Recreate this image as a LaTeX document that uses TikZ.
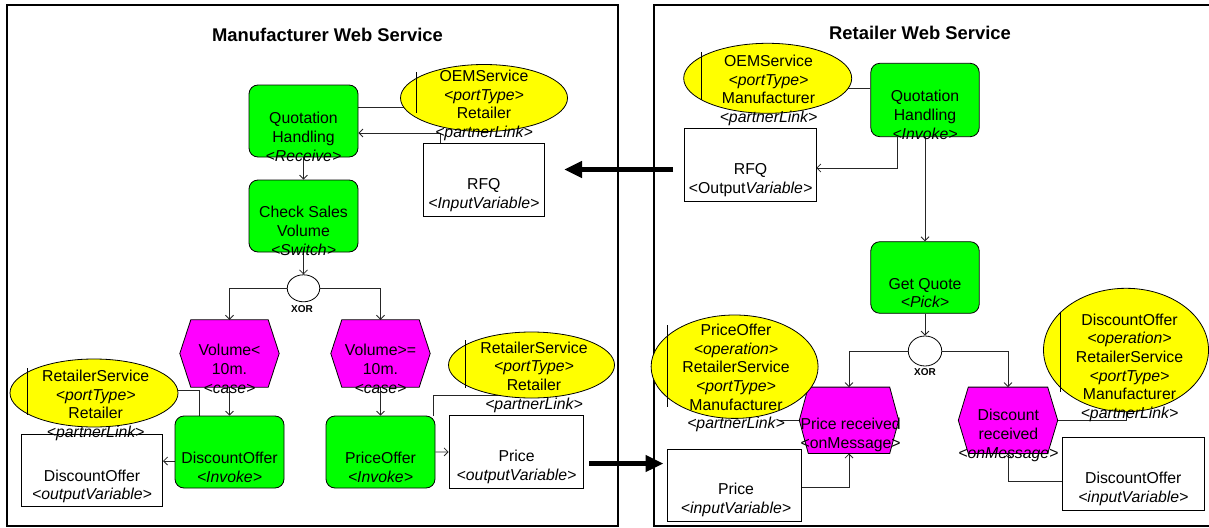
\documentclass[tikz,border=0pt]{standalone}
\usepackage{fontspec}
\setmainfont{Liberation Sans}
\usepackage{xcolor}
\usetikzlibrary{shapes.geometric,arrows.meta}
\definecolor{actgreen}{RGB}{0,255,0}
\definecolor{casemag}{RGB}{255,0,255}
\definecolor{linkyellow}{RGB}{255,255,0}
\pgfdeclarelayer{back}
\pgfsetlayers{back,main}
% hexagon drawn over the box of a case node
\newcommand{\casehex}[2][10]{%
  \filldraw[draw=black, line width=0.8pt, fill=casemag] (#2.west) -- ([xshift=#1]#2.north west) -- ([xshift=-#1]#2.north east)
    -- (#2.east) -- ([xshift=-#1]#2.south east) -- ([xshift=#1]#2.south west) -- cycle;}

\begin{document}
\begin{tikzpicture}[x=1pt,y=-1pt,
  font=\fontsize{15.8}{18.7}\selectfont,
  frame/.style={draw=black, line width=1.3pt},
  title/.style={font=\fontsize{18.4}{21}\selectfont\bfseries},
  activity/.style={rectangle, rounded corners=9pt, draw=black, line width=0.8pt, fill=actgreen, minimum width=109pt, minimum height=72pt, inner sep=0pt},
  casebox/.style={rectangle, minimum width=99pt, minimum height=66pt, inner sep=0pt},
  link/.style={ellipse, draw=black, line width=0.8pt, fill=linkyellow, inner sep=0pt},
  var/.style={rectangle, draw=black, line width=0.8pt, fill=white, inner sep=0pt},
  xorgate/.style={ellipse, draw=black, line width=0.8pt, fill=white, inner sep=0pt},
  txt/.style={align=center, inner sep=0pt},
  xortxt/.style={font=\fontsize{10}{12}\selectfont\bfseries, inner sep=0pt},
  con/.style={draw=black!85, line width=0.8pt},
  arr/.style={con, -{Straight Barb[length=4pt,width=8pt]}},
  big/.style={line width=5pt, -{Triangle[length=18pt,width=16pt]}}]
\useasboundingbox (0,0) rectangle (1209,527);

% Titles
\node[title] (mtitle) at (327.5,35) {Manufacturer Web Service};
\node[title] (rtitle) at (920,33) {Retailer Web Service};

% Manufacturer side
\node[activity] (mqh) at (303.5,121) {};
\node[activity] (mcsv) at (303.5,216) {};
\node[link, minimum width=167pt, minimum height=67pt] (moem) at (484,98) {};
\node[var, minimum width=121.6pt, minimum height=73pt] (mrfq) at (483.8,179.5) {};
\node[xorgate, minimum width=32.5pt, minimum height=27pt] (mxor) at (303.5,288.3) {};
\node[casebox, minimum height=67pt] (mvlt) at (229.5,353.5) {};
\node[casebox, minimum height=67pt] (mvge) at (380.5,353.5) {};
\casehex[11]{mvlt}
\casehex[11]{mvge}
\node[activity] (mdo) at (229.5,452) {};
\node[activity] (mpo) at (380.5,452) {};
\node[link, minimum width=168pt, minimum height=68pt] (mrs1) at (94,393) {};
\node[var, minimum width=141.6pt, minimum height=72.7pt] (mdov) at (91.8,470.3) {};
\node[link, minimum width=166pt, minimum height=66pt] (mrs2) at (531.5,365) {};
\node[var, minimum width=134pt, minimum height=72.3pt] (mprv) at (516,451.8) {};

% Retailer side
\node[link, minimum width=168pt, minimum height=70pt] (roem) at (767.7,78.3) {};
\node[activity, minimum width=108.4pt, minimum height=73.4pt] (rqh) at (925,100) {};
\node[var, minimum width=131.5pt, minimum height=73pt] (rrfq) at (750.2,164.5) {};
\node[activity, minimum width=108.4pt, minimum height=71.6pt] (rgq) at (925,277.5) {};
\node[xorgate, minimum width=33.5pt, minimum height=30pt] (rxor) at (925,351) {};
\node[casebox] (rprc) at (849,420.3) {};
\node[casebox] (rdis) at (1008,420.3) {};
\casehex[9]{rprc}
\casehex[10]{rdis}
\node[link, minimum width=167pt, minimum height=103.4pt] (rpo) at (734.6,366.7) {};
\node[link, minimum width=165pt, minimum height=123.4pt] (rdo) at (1126,350) {};
\node[var, minimum width=133.7pt, minimum height=72pt] (rprv) at (734.2,485) {};
\node[var, minimum width=141.4pt, minimum height=72.3pt] (rdov) at (1133.3,473.9) {};

% Frames and connectors behind the shapes
\begin{pgfonlayer}{back}
\draw[frame] (7,5) rectangle (618,526);
\draw[frame] (654,5) rectangle (1212,526);

\draw[con] ([yshift=14]mqh.east) -- ([yshift=14]mqh.east -| moem.center);
\draw[arr] ([xshift=-43.8]mrfq.north) |- ([yshift=-12]mqh.east);
\draw[arr] (mqh) -- (mcsv);
\draw[arr] (mcsv) -- (mxor);
\draw[arr] (mxor) -| (mvlt);
\draw[arr] (mxor) -| (mvge);
\draw[arr] (mvlt) -- (mdo);
\draw[arr] (mvge) -- (mpo);
\draw[con] ([xshift=-30.5]mdo.north) |- ([yshift=3]mrs1.center);
\draw[arr] ([yshift=-9]mdo.west) -- ([yshift=-9]mdo.west -| mdov.east);
\draw[con] ([xshift=53]mpo.north) |- ([yshift=-30]mrs2.center);
\draw[arr] (mpo) -- (mprv);

\draw[con] ([yshift=12]rqh.west) -- ([yshift=12]rqh.west -| roem.center);
\draw[arr] ([xshift=-28]rqh.south) |- ([yshift=-3.5]rrfq.east);
\draw[arr] (rqh) -- (rgq);
\draw[arr] (rgq) -- (rxor);
\draw[arr] (rxor) -| (rprc);
\draw[arr] (rxor) -| (rdis);
\draw[con] (rprc.west) -- ([xshift=-20]rprc.west);
\draw[con] (rdis.east) -| (rdo.south);
\draw[arr] ([yshift=-2.3]rprv.east) -| (rprc.south);
\draw[arr] ([yshift=-7.8]rdov.west) -| (rdis.south);
\end{pgfonlayer}

% Bars inside the partner links
\draw[line width=0.8pt] (416,72) -- (416,113);
\draw[line width=0.8pt] (27.5,368) -- (27.5,415);
\draw[line width=0.8pt] (465,340) -- (465,388);
\draw[line width=0.8pt] (701.7,52) -- (701.7,100);
\draw[line width=0.8pt] (667,325) -- (667,406.7);
\draw[line width=0.8pt] (1060.7,311.7) -- (1060.7,391.7);

% Texts
\node[txt] (mqhtxt) at (303.5,136.7) {Quotation\\Handling\\\textit{<Receive>}};
\node[txt] (mcsvtxt) at (303.5,231) {Check Sales\\Volume\\\textit{<Switch>}};
\node[txt] (moemtxt) at (484,105.5) {OEMService\\\textit{<portType>}\\Retailer\\\textit{<partnerLink>}};
\node[txt] (mrfqtxt) at (483.8,195) {RFQ\\\textit{<InputVariable>}};
\node[xortxt] (mxortxt) at (302,309) {XOR};
\node[txt] (mvlttxt) at (229.5,369) {Volume<\\10m.\\\textit{<case>}};
\node[txt] (mvgetxt) at (380.5,369) {Volume>=\\10m.\\\textit{<case>}};
\node[txt] (mdotxt) at (229.5,467) {DiscountOffer\\\textit{<Invoke>}};
\node[txt] (mpotxt) at (380.5,467) {PriceOffer\\\textit{<Invoke>}};
\node[txt] (mrs1txt) at (95.7,405.5) {RetailerService\\\textit{<portType>}\\Retailer\\\textit{<partnerLink>}};
\node[txt] (mdovtxt) at (92,486.5) {DiscountOffer\\\textit{<outputVariable>}};
\node[txt] (mrs2txt) at (534,377) {RetailerService\\\textit{<portType>}\\Retailer\\\textit{<partnerLink>}};
\node[txt] (mprvtxt) at (516.6,467) {Price\\\textit{<outputVariable>}};

\node[txt] (roemtxt) at (768.5,90.5) {OEMService\\\textit{<portType>}\\Manufacturer\\\textit{<partnerLink>}};
\node[txt] (rqhtxt) at (925,115) {Quotation\\Handling\\\textit{<Invoke>}};
\node[txt] (rrfqtxt) at (750.6,180) {RFQ\\<Output\textit{Variable>}};
\node[txt] (rgqtxt) at (925,293) {Get Quote\\\textit{<Pick>}};
\node[xortxt] (rxortxt) at (925,371.7) {XOR};
\node[txt] (rprctxt) at (850.6,435) {Price received\\<onMessage>};
\node[txt] (rdistxt) at (1008.4,435.3) {Discount\\received\\\textit{<onMessage>}};
\node[txt] (rpotxt) at (736,378) {PriceOffer\\\textit{<operation>}\\RetailerService\\\textit{<portType>}\\Manufacturer\\\textit{<partnerLink>}};
\node[txt] (rdotxt) at (1129.5,367.7) {DiscountOffer\\\textit{<operation>}\\RetailerService\\\textit{<portType>}\\Manufacturer\\\textit{<partnerLink>}};
\node[txt] (rprvtxt) at (736,500) {Price\\\textit{<inputVariable>}};
\node[txt] (rdovtxt) at (1133.3,488.8) {DiscountOffer\\\textit{<inputVariable>}};

% Messages between the services
\coordinate (rfqsend) at (673,169.5);
\coordinate (rfqrecv) at (564,169.5);
\draw[big] (rfqsend) -- (rfqrecv);
\coordinate (pricesend) at (589,463.5);
\coordinate (pricerecv) at (663.5,463.5);
\draw[big] (pricesend) -- (pricerecv);
\end{tikzpicture}
\end{document}
